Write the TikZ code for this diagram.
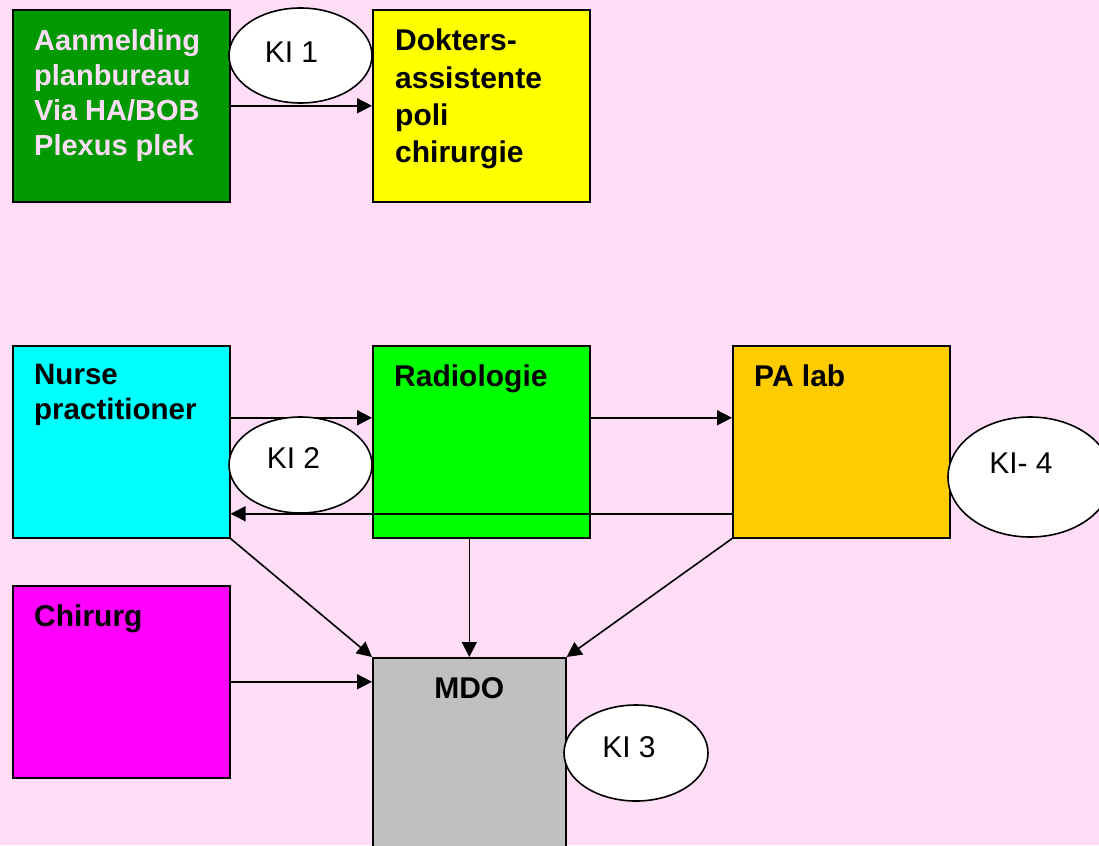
\documentclass[tikz,border=0pt]{standalone}
\usepackage{fontspec}
\setmainfont{Liberation Sans}
\usetikzlibrary{shapes.geometric,arrows.meta}
\tikzset{>={Triangle[length=15pt,width=15pt]}}
\definecolor{achter}{RGB}{255,221,247}
\definecolor{donkergroen}{RGB}{0,153,0}
\definecolor{geel}{RGB}{255,255,0}
\definecolor{cyaan}{RGB}{0,255,255}
\definecolor{lichtgroen}{RGB}{0,255,0}
\definecolor{oranje}{RGB}{255,204,0}
\definecolor{paars}{RGB}{255,0,255}
\definecolor{grijs}{RGB}{192,192,192}

\begin{document}
\begin{tikzpicture}[x=1pt,y=-1pt,
  box/.style={draw,line width=1.6pt,anchor=north west,minimum width=217pt,minimum height=192pt,inner sep=0pt},
  txt/.style={anchor=north west,align=left,inner sep=0pt,font=\fontsize{30}{36}\selectfont\bfseries},
  ki/.style={draw,ellipse,fill=white,line width=1.6pt,inner sep=0pt},
  kitxt/.style={inner sep=0pt,font=\fontsize{30}{34}\selectfont},
  pijl/.style={->,line width=1.6pt}]
\fill[achter] (0,0) rectangle (1099,845);
\useasboundingbox (0,0) rectangle (1099,845);
% blokken
\node[box,fill=donkergroen] (aanm) at (12,9) {};
\node[box,fill=geel] (dokter) at (372,9) {};
\node[box,fill=cyaan] (nurse) at (12,345) {};
\node[box,fill=lichtgroen] (radio) at (372,345) {};
\node[box,fill=oranje] (palab) at (732,345) {};
\node[box,fill=paars] (chirurg) at (12,585) {};
\node[box,fill=grijs,minimum width=193pt,minimum height=210pt] (mdo) at (372,657) {};
% teksten
\node[txt,text=achter,font=\fontsize{29}{35}\selectfont\bfseries] (aanmtxt) at ([shift={(22,20)}]aanm.north west) {Aanmelding\\planbureau\\Via HA/BOB\\Plexus plek};
\node[txt,font=\fontsize{30}{37.3}\selectfont\bfseries] (doktertxt) at ([shift={(23,20)}]dokter.north west) {Dokters-\\assistente\\poli\\chirurgie};
\node[txt,font=\fontsize{29.5}{35.5}\selectfont\bfseries] (nursetxt) at ([shift={(22,19)}]nurse.north west) {Nurse\\practitioner};
\node[txt] (radiotxt) at ([shift={(22,20)}]radio.north west) {Radiologie};
\node[txt] (palabtxt) at ([shift={(22,20)}]palab.north west) {PA lab};
\node[txt] (chirurgtxt) at ([shift={(22,20)}]chirurg.north west) {Chirurg};
\node[txt,anchor=north] (mdotxt) at ([shift={(0,20)}]mdo.north) {MDO};
% pijlen
\draw[pijl] (aanm) -- (dokter);
\draw[pijl] ([yshift=24pt]nurse.east) -- ([yshift=24pt]radio.west);
\draw[pijl] ([yshift=24pt]radio.east) -- ([yshift=24pt]palab.west);
\draw[pijl] ([yshift=-72pt]palab.west) -- ([yshift=-72pt]nurse.east);
\draw[pijl] (nurse.south east) -- (mdo.north west);
\draw[pijl] (radio.south -| mdo.north) -- (mdo.north);
\draw[pijl] (palab.south west) -- (mdo.north east);
\draw[pijl] (chirurg) -- (chirurg -| mdo.west);
% KI ellipsen
\node[ki,minimum width=143pt,minimum height=95pt,label={[kitxt,xshift=-9pt,yshift=3pt]center:KI 1}] (ki1) at (300.5,55.5) {};
\node[ki,minimum width=143pt,minimum height=96pt,label={[kitxt,xshift=-7pt,yshift=7pt]center:KI 2}] (ki2) at (300.5,465) {};
\node[ki,minimum width=164pt,minimum height=120pt,label={[kitxt,xshift=-9pt,yshift=14pt]center:KI- 4}] (ki4) at (1030,477) {};
\node[ki,minimum width=144pt,minimum height=96pt,label={[kitxt,xshift=-7pt,yshift=6pt]center:KI 3}] (ki3) at (636,753) {};
\end{tikzpicture}
\end{document}
